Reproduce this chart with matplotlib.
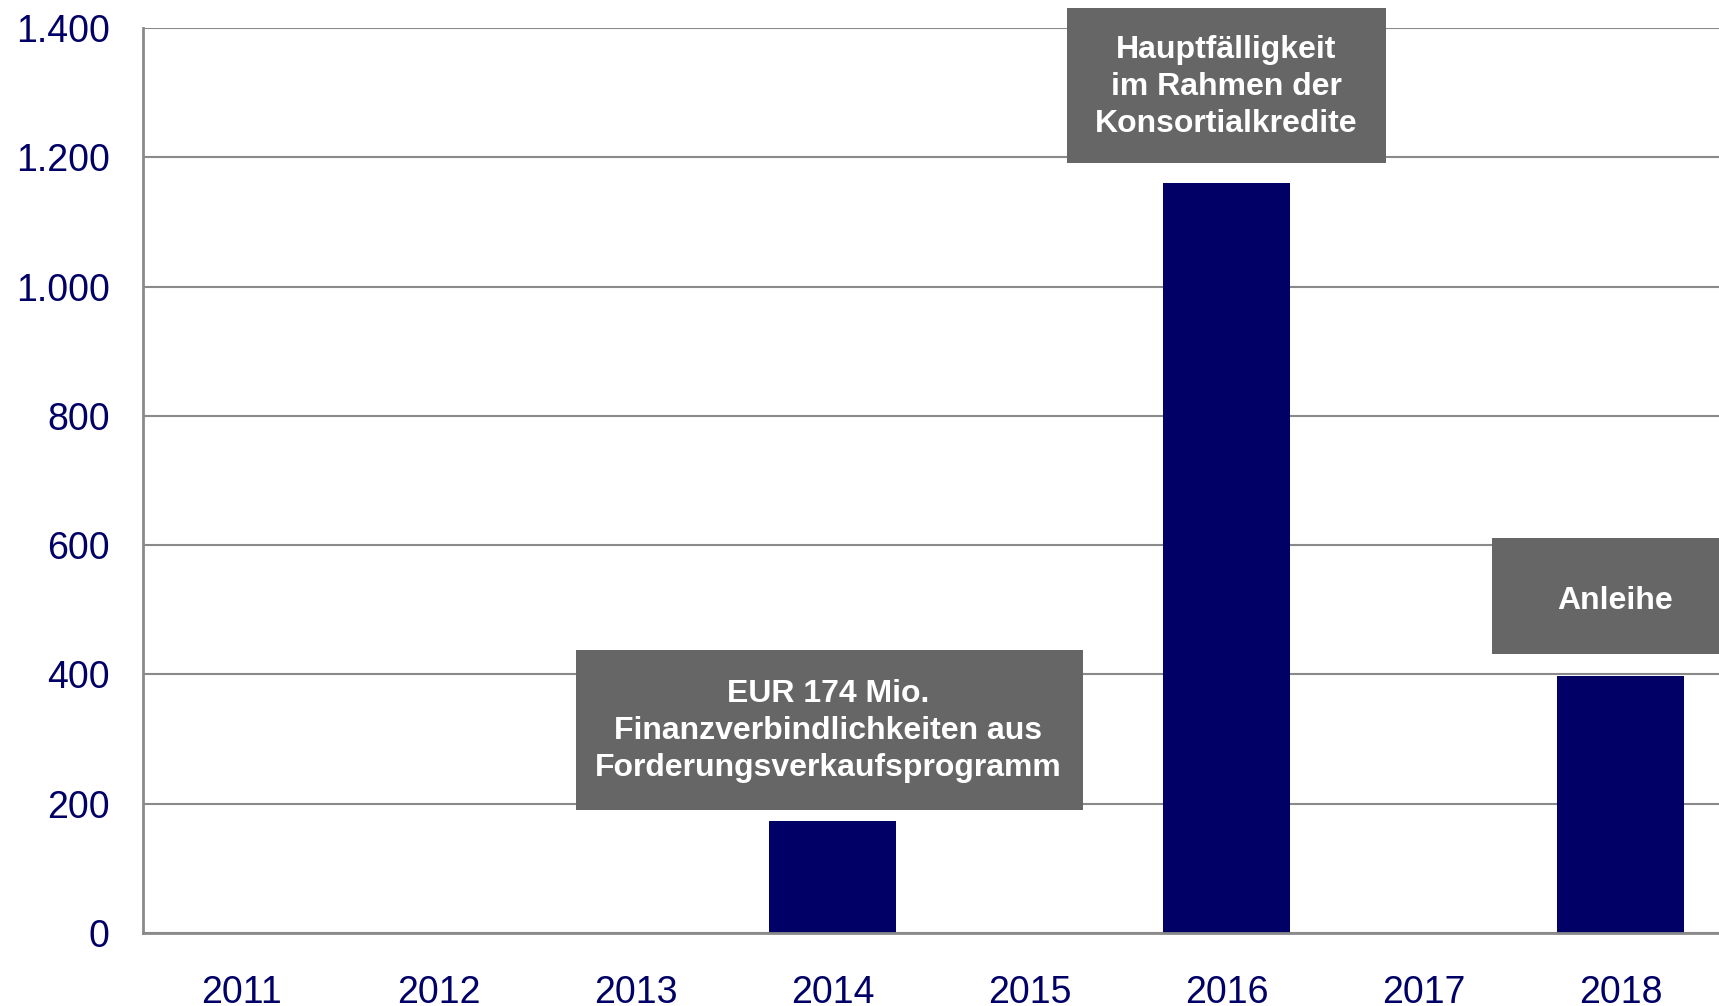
import matplotlib
matplotlib.use('Agg')
import matplotlib.pyplot as plt
from matplotlib.patches import Rectangle

years = ['2011', '2012', '2013', '2014', '2015', '2016', '2017', '2018']
maturities = [0, 0, 0, 174, 0, 1160, 0, 397]
y_ticks = [0, 200, 400, 600, 800, 1000, 1200, 1400]
y_tick_labels = ['0', '200', '400', '600', '800', '1.000', '1.200', '1.400']

notes = [
    'EUR 174 Mio.\nFinanzverbindlichkeiten aus\nForderungsverkaufsprogramm',
    'Hauptfälligkeit\nim Rahmen der\nKonsortialkredite',
    'Anleihe',
]
# box extents in data units: x0, x1, y0, y1
note_boxes = [
    (1.70, 4.27, 190, 438),
    (4.19, 5.81, 1191, 1431),
    (6.35, 7.62, 432, 611),
]
note_text_xy = [(2.98, 312), (5.0, 1309), (6.97, 514)]

NAVY = '#000066'
GRID = '#8a8a8a'
BOX = '#666666'

plt.rcParams['font.family'] = ['Liberation Sans', 'DejaVu Sans']

fig = plt.figure(figsize=(17.19, 10.06), dpi=100)
ax = fig.add_axes([143 / 1719, 73 / 1006, 1 - 143 / 1719, 905 / 1006])

x = range(len(years))
ax.bar(x, maturities, width=0.645, color=NAVY, zorder=3)

ax.set_xlim(-0.5, len(years) - 0.5)
ax.set_ylim(0, 1400)
ax.set_yticks(y_ticks)
ax.set_yticklabels(y_tick_labels)
ax.set_xticks(list(x))
ax.set_xticklabels(years)
ax.tick_params(axis='y', length=0, pad=24, labelsize=27, labelcolor=NAVY)
ax.tick_params(axis='x', length=0, pad=30, labelsize=27, labelcolor=NAVY)

ax.grid(axis='y', color=GRID, linewidth=1.5, zorder=0)
ax.set_axisbelow(True)
for side in ['top', 'right']:
    ax.spines[side].set_visible(False)
for side in ['left', 'bottom']:
    ax.spines[side].set_color(GRID)
    ax.spines[side].set_linewidth(2)
    ax.spines[side].set_zorder(4)

for text, (x0, x1, y0, y1), (tx, ty) in zip(notes, note_boxes, note_text_xy):
    ax.add_patch(Rectangle((x0, y0), x1 - x0, y1 - y0, facecolor=BOX,
                           edgecolor='none', zorder=5, clip_on=False))
    ax.text(tx, ty, text, ha='center', va='center', color='white',
            fontsize=23, fontweight='bold', linespacing=1.3, zorder=6)

fig.savefig('out.png', dpi=100)
